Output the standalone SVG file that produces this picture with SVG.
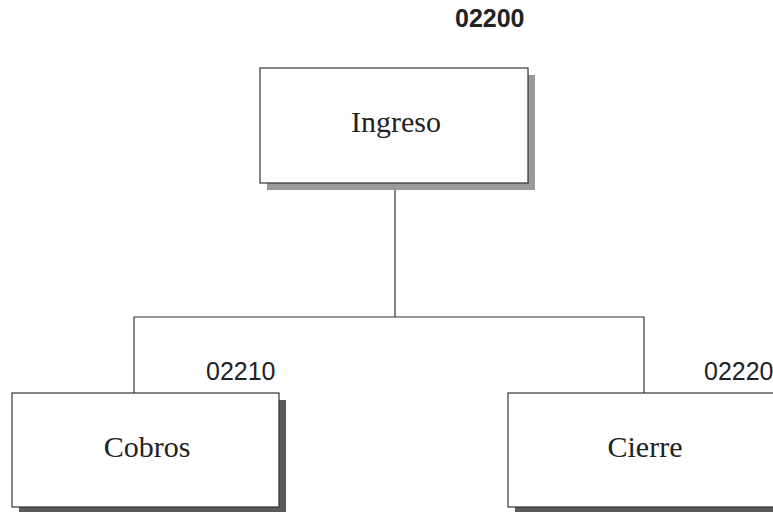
<svg xmlns="http://www.w3.org/2000/svg" width="773" height="517" viewBox="0 0 773 517">
<style>
.box{fill:#fff;stroke:#333;stroke-width:1.2}
.shadow{fill:#5a5a5a}
.lbl{font-family:"Liberation Serif",serif;font-size:30px;fill:#222;text-anchor:middle}
.code{font-family:"Liberation Sans",sans-serif;font-size:25px;fill:#222}
.conn{fill:none;stroke:#333;stroke-width:1.2}
</style>
<rect width="773" height="517" fill="#fff"/>
<g id="connectors">
<line class="conn" x1="395" y1="190" x2="395" y2="317"/>
<polyline class="conn" points="134,393 134,317 644,317 644,393"/>
</g>
<g id="ingreso">
<rect class="shadow" x="267" y="75" width="268" height="115" style="fill:#9a9a9a"/>
<rect class="box" x="260" y="68" width="268" height="115"/>
<text class="lbl" x="396" y="132">Ingreso</text>
<text class="code" x="455" y="27" font-weight="bold">02200</text>
</g>
<g id="cobros">
<rect class="shadow" x="19" y="400" width="267" height="112"/>
<rect class="box" x="12" y="393" width="267" height="114"/>
<text class="lbl" x="147" y="457">Cobros</text>
<text class="code" x="206" y="380">02210</text>
</g>
<g id="cierre">
<rect class="shadow" x="515" y="400" width="267" height="112"/>
<rect class="box" x="508" y="393" width="267" height="114"/>
<text class="lbl" x="645" y="457">Cierre</text>
<text class="code" x="704" y="380">02220</text>
</g>
</svg>
